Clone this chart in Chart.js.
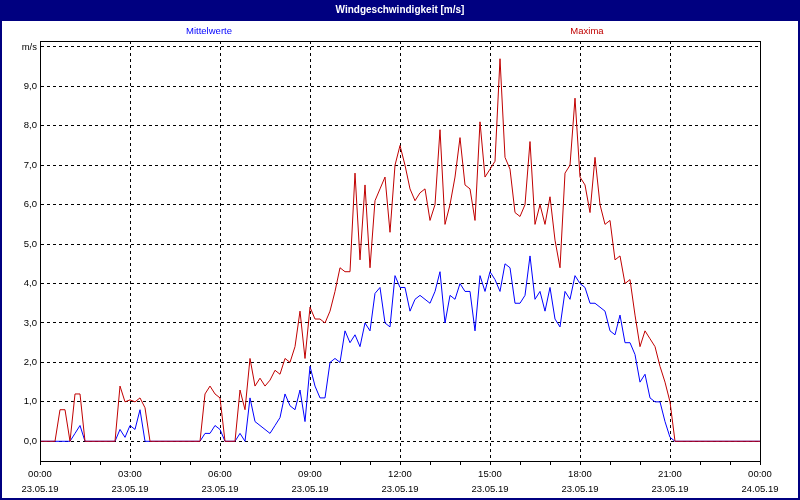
<!DOCTYPE html>
<html>
<head>
<meta charset="utf-8">
<script src="https://cdn.jsdelivr.net/npm/chart.js@4/dist/chart.umd.min.js"></script>
<style>
  html, body { margin: 0; padding: 0; background: #fff; }
  #wrap { width: 800px; height: 500px; }
</style>
</head>
<body>
<div id="wrap"><canvas id="windChart" width="800" height="500"></canvas></div>
<script>
const chartTitle = 'Windgeschwindigkeit [m/s]';
const startDate = '23.05.19';
const endDate = '24.05.19';

// 10-minute values from 00:00 to 24:00 (145 points)
const mittelwerte = [
  0, 0, 0, 0, 0, 0, 0, 0.2, 0.4, 0, 0, 0, 0, 0, 0, 0,
  0.3, 0.1, 0.4, 0.3, 0.8, 0,
  0, 0, 0, 0, 0, 0, 0, 0, 0, 0, 0,
  0.2, 0.2, 0.4, 0.3, 0, 0, 0,
  0.2, 0, 1.1, 0.5, 0.4, 0.3, 0.2, 0.4, 0.6, 1.2, 0.9, 0.8,
  1.3, 0.5, 1.9, 1.4, 1.1, 1.1, 2.0, 2.1, 2.0, 2.8, 2.5, 2.7,
  2.4, 3.0, 2.8, 3.75, 3.9, 3.0, 2.9, 4.2, 3.9, 3.9, 3.3, 3.6,
  3.7, 3.6, 3.5, 3.8, 4.3, 3.0, 3.7, 3.6, 4.0, 3.8, 3.8, 2.8,
  4.2, 3.8, 4.3, 4.1, 3.8, 4.5, 4.4, 3.5, 3.5, 3.7, 4.7, 3.6,
  3.8, 3.3, 3.9, 3.1, 2.9, 3.8, 3.6, 4.2, 4.0, 3.9, 3.5, 3.5,
  3.4, 3.3, 2.8, 2.7, 3.2, 2.5, 2.5, 2.2, 1.5, 1.7, 1.1, 1.0,
  1.0, 0.5, 0.1, 0,
  0, 0, 0, 0, 0, 0, 0, 0, 0, 0, 0, 0, 0, 0, 0, 0, 0
];

const maxima = [
  0, 0, 0, 0, 0.8, 0.8, 0, 1.2, 1.2, 0, 0, 0, 0, 0, 0, 0,
  1.4, 1.0, 1.05, 1.0, 1.1, 0.85,
  0, 0, 0, 0, 0, 0, 0, 0, 0, 0, 0,
  1.2, 1.4, 1.2, 1.1, 0, 0, 0,
  1.3, 0.8, 2.1, 1.4, 1.6, 1.4, 1.55, 1.8, 1.7, 2.1, 2.0, 2.4,
  3.3, 2.1, 3.4, 3.1, 3.1, 3.0, 3.3, 3.8, 4.4, 4.3, 4.3, 6.8,
  4.6, 6.5, 4.4, 6.1, 6.4, 6.7, 5.3, 7.0, 7.5, 7.0, 6.4, 6.1,
  6.3, 6.4, 5.6, 6.0, 7.9, 5.5, 6.0, 6.7, 7.7, 6.5, 6.4, 5.6,
  8.1, 6.7, 6.9, 7.1, 9.7, 7.2, 6.9, 5.8, 5.7, 6.0, 7.6, 5.5,
  6.0, 5.5, 6.2, 5.1, 4.4, 6.8, 7.0, 8.7, 6.7, 6.5, 5.8, 7.2,
  6.0, 5.5, 5.6, 4.6, 4.7, 4.0, 4.1, 3.2, 2.4, 2.8, 2.6, 2.4,
  1.9, 1.5, 1.0, 0,
  0, 0, 0, 0, 0, 0, 0, 0, 0, 0, 0, 0, 0, 0, 0, 0, 0
];

const yTicks = [0, 1, 2, 3, 4, 5, 6, 7, 8, 9, 10];
const yTickLabels = ['0,0', '1,0', '2,0', '3,0', '4,0', '5,0', '6,0', '7,0', '8,0', '9,0', 'm/s'];

// time stamps of the 10-minute samples
const times = [];
const dates = [];
for (let i = 0; i <= 144; i++) {
  const hh = String(Math.floor(i / 6) % 24).padStart(2, '0');
  const mm = String((i % 6) * 10).padStart(2, '0');
  times.push(hh + ':' + mm);
  dates.push(i === 144 ? endDate : startDate);
}

const FONT = '"Liberation Sans", Arial, sans-serif';

const frame = {
  id: 'frame',
  beforeDraw(chart) {
    const {ctx, width, height} = chart;
    ctx.save();
    ctx.fillStyle = '#fff';
    ctx.fillRect(0, 0, width, height);
    ctx.fillStyle = '#000080';
    ctx.fillRect(0, 0, width, 21);
    ctx.strokeStyle = '#000080';
    ctx.lineWidth = 2;
    ctx.strokeRect(1, 1, width - 2, height - 2);

    ctx.fillStyle = '#fff';
    ctx.font = 'bold 10px ' + FONT;
    ctx.textAlign = 'center';
    ctx.textBaseline = 'middle';
    ctx.fillText(chartTitle, width / 2, 10.5);

    // series names above the plot
    ctx.font = '9.5px ' + FONT;
    const pos = [209, 587];
    chart.data.datasets.forEach(ds => {
      ctx.fillStyle = ds.borderColor;
      ctx.fillText(ds.label, pos[ds.slot], 31);
    });
    ctx.restore();
  },
  afterDraw(chart) {
    const {ctx, chartArea: a} = chart;
    ctx.save();
    ctx.strokeStyle = '#000';
    ctx.lineWidth = 1;
    ctx.strokeRect(Math.round(a.left) + 0.5, Math.round(a.top) + 0.5,
      Math.round(a.right - a.left), Math.round(a.bottom - a.top));
    ctx.restore();
  }
};

new Chart(document.getElementById('windChart'), {
  type: 'line',
  data: {
    labels: times,
    datasets: [
      {
        label: 'Mittelwerte',
        slot: 0,
        data: mittelwerte,
        borderColor: '#0000ff',
        borderWidth: 1,
        pointRadius: 0,
        tension: 0,
        order: 2
      },
      {
        label: 'Maxima',
        slot: 1,
        data: maxima,
        borderColor: '#c00000',
        borderWidth: 1,
        pointRadius: 0,
        tension: 0,
        order: 1
      }
    ]
  },
  options: {
    responsive: false,
    animation: false,
    layout: { padding: { top: 41, right: 40, bottom: 0, left: 0 } },
    plugins: {
      legend: { display: false },
      tooltip: { enabled: false },
      title: { display: false }
    },
    scales: {
      x: {
        type: 'category',
        offset: false,
        afterFit: axis => { axis.height = 39; },
        border: { display: true, color: '#000', width: 1, dash: [3, 3] },
        grid: {
          color: c => c.index % 18 === 0 ? '#000' : 'rgba(0,0,0,0)',
          tickColor: c => c.index % 6 === 0 ? '#000' : 'rgba(0,0,0,0)',
          lineWidth: 1,
          tickLength: 4
        },
        ticks: {
          autoSkip: false,
          maxRotation: 0,
          minRotation: 0,
          padding: 2,
          color: '#000',
          font: { family: FONT, size: 9.5, lineHeight: 1.6 },
          callback: (v, i) => i % 18 === 0 ? [times[i], dates[i]] : ''
        }
      },
      y: {
        type: 'linear',
        min: -0.5,
        max: 10.15,
        afterFit: axis => { axis.width = 40; },
        afterBuildTicks: axis => { axis.ticks = yTicks.map(v => ({ value: v })); },
        border: { display: true, color: '#000', width: 1, dash: [3, 3] },
        grid: { color: '#000', lineWidth: 1, drawTicks: false },
        ticks: {
          padding: 3,
          color: '#000',
          font: { family: FONT, size: 9.5 },
          callback: (v, i) => yTickLabels[i]
        }
      }
    }
  },
  plugins: [frame]
});
</script>
</body>
</html>
